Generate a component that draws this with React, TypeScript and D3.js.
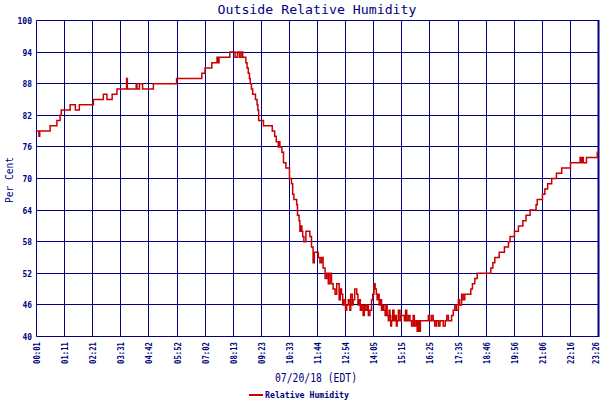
import * as d3 from 'd3';

// minutes after midnight (07/20/18, EDT) and relative humidity in %
const minutes = [
  1, 7, 9, 35, 52, 60, 63, 85, 98, 108, 143, 168, 177, 190, 202, 226, 228, 250, 252, 258,
  266, 293, 351, 414, 422, 439, 452, 454, 457, 484, 497, 503, 508, 512, 516, 524, 527, 530, 533, 535,
  538, 541, 548, 552, 554, 556, 568, 590, 596, 600, 605, 607, 609, 614, 618, 624, 633, 638, 641, 644,
  651, 653, 657, 659, 662, 664, 666, 669, 674, 684, 688, 692, 695, 705, 709, 713, 717, 722, 726, 730,
  734, 738, 742, 747, 751, 757, 760, 763, 766, 769, 773, 776, 780, 784, 786, 790, 792, 796, 801, 804,
  807, 810, 813, 817, 820, 824, 828, 830, 834, 838, 841, 844, 847, 850, 852, 855, 857, 860, 863, 866,
  869, 872, 874, 877, 880, 882, 884, 886, 888, 891, 894, 897, 900, 902, 905, 909, 912, 920, 923, 926,
  930, 934, 938, 942, 945, 949, 952, 955, 957, 960, 980, 983, 988, 992, 996, 1000, 1005, 1009, 1017, 1022,
  1026, 1030, 1038, 1042, 1046, 1050, 1055, 1058, 1063, 1067, 1071, 1086, 1090, 1096, 1102, 1136, 1141, 1146, 1157, 1170,
  1180, 1184, 1195, 1205, 1216, 1224, 1234, 1249, 1252, 1265, 1271, 1278, 1288, 1300, 1313, 1335, 1359, 1362, 1365, 1367,
  1375, 1402, 1405,
];
const humidity = [
  79, 78, 79, 80, 81, 82, 83, 84, 83, 84, 85, 86, 85, 86, 87, 89, 87, 88, 87, 88,
  87, 88, 89, 90, 91, 92, 93, 92, 93, 94, 93, 94, 93, 94, 93, 92, 91, 90, 89, 88,
  87, 86, 85, 84, 83, 81, 80, 79, 78, 77, 76, 77, 76, 75, 73, 72, 70, 69, 67, 66,
  65, 63, 62, 60, 61, 60, 59, 58, 60, 59, 57, 54, 56, 55, 54, 55, 53, 51, 52, 50,
  52, 50, 49, 48, 50, 47, 49, 48, 46, 47, 45, 46, 47, 45, 48, 46, 47, 49, 48, 46,
  47, 45, 46, 44, 46, 45, 46, 44, 45, 47, 48, 50, 49, 48, 47, 48, 46, 47, 45, 46,
  45, 44, 46, 44, 43, 45, 44, 42, 43, 45, 43, 44, 42, 43, 45, 43, 44, 43, 45, 43,
  44, 43, 42, 44, 42, 43, 41, 43, 41, 43, 44, 43, 44, 43, 42, 43, 42, 43, 42, 43,
  44, 43, 44, 45, 46, 45, 47, 46, 48, 47, 48, 49, 50, 51, 52, 53, 54, 55, 56, 57,
  58, 59, 60, 61, 62, 63, 64, 65, 66, 67, 68, 69, 70, 71, 72, 73, 74, 73, 74, 73,
  74, 75, 75,
];

const xTickLabels = [
  '00:01', '01:11', '02:21', '03:31', '04:42', '05:52', '07:02', '08:13', '09:23', '10:33',
  '11:44', '12:54', '14:05', '15:15', '16:25', '17:35', '18:46', '19:56', '21:06', '22:16', '23:26',
];
const yTicks = [40, 46, 52, 58, 64, 70, 76, 82, 88, 94, 100];

const NAVY = '#000080';
const RED = '#c80000';
const MONO = '"DejaVu Sans Mono", monospace';

export default function App() {
  const W = 600;
  const H = 400;
  const M = { left: 36.5, right: 598.5, top: 20.5, bottom: 336.5 };

  const x = d3.scaleLinear().domain([1, 1405]).range([M.left, M.right]);
  const y = d3.scaleLinear().domain([40, 100]).range([M.bottom, M.top]);

  const xTicks = xTickLabels.map((_, i) => 1 + i * 70.2);
  const pts = minutes.map((m, i) => [m, humidity[i]] as [number, number]);

  const line = d3.line<[number, number]>()
    .x(d => x(d[0]))
    .y(d => y(d[1]))
    .curve(d3.curveStepAfter);

  const crisp = (v: number) => Math.floor(v) + 0.5;

  return (
    <div style={{ position: 'fixed', left: 0, top: 0 }}>
      <svg width={W} height={H} style={{ display: 'block', background: '#fff' }}>
        <text x={317} y={13.5} textAnchor="middle" fill={NAVY} fontFamily={MONO} fontSize={13}
          textLength={199} lengthAdjust="spacingAndGlyphs">Outside Relative Humidity</text>

        {/* horizontal grid + y labels */}
        {yTicks.map(t => (
          <g key={t}>
            <line x1={M.left} x2={M.right} y1={crisp(y(t))} y2={crisp(y(t))} stroke={NAVY} strokeWidth={1} />
            <text x={32} y={Math.floor(y(t)) + 3.5} textAnchor="end" fill={NAVY} fontFamily={MONO}
              fontSize={8} fontWeight="bold" textLength={5 * String(t).length - 0.5}
              lengthAdjust="spacingAndGlyphs">{t}</text>
          </g>
        ))}

        {/* vertical grid + x labels */}
        {xTicks.map((t, i) => {
          const gx = crisp(x(t));
          // keep the last label inside the page edge
          const lx = Math.min(gx + 3.5, 598.5);
          return (
            <g key={i}>
              <line x1={gx} x2={gx} y1={M.top} y2={M.bottom} stroke={NAVY} strokeWidth={1} />
              <text transform={`translate(${lx},342) rotate(-90)`} textAnchor="end" fill={NAVY}
                fontFamily={MONO} fontSize={9} fontWeight="bold" textLength={22}
                lengthAdjust="spacingAndGlyphs">{xTickLabels[i]}</text>
            </g>
          );
        })}
        <line x1={M.right} x2={M.right} y1={M.top - 0.5} y2={M.bottom + 0.5} stroke={NAVY} strokeWidth={2} />

        <path d={line(pts) ?? ''} fill="none" stroke={RED} strokeWidth={1.5} />

        <text transform="translate(12.5,180) rotate(-90)" textAnchor="middle" fill={NAVY} fontFamily={MONO}
          fontSize={11} textLength={46} lengthAdjust="spacingAndGlyphs">Per Cent</text>

        <text x={316} y={382} textAnchor="middle" fill={NAVY} fontFamily={MONO} fontSize={11.5}
          textLength={82} lengthAdjust="spacingAndGlyphs">07/20/18 (EDT)</text>

        <line x1={249} x2={263} y1={395} y2={395} stroke={RED} strokeWidth={2} />
        <text x={265} y={397.5} fill={NAVY} fontFamily={MONO} fontSize={8} fontWeight="bold"
          textLength={84} lengthAdjust="spacingAndGlyphs">Relative Humidity</text>
      </svg>
    </div>
  );
}
